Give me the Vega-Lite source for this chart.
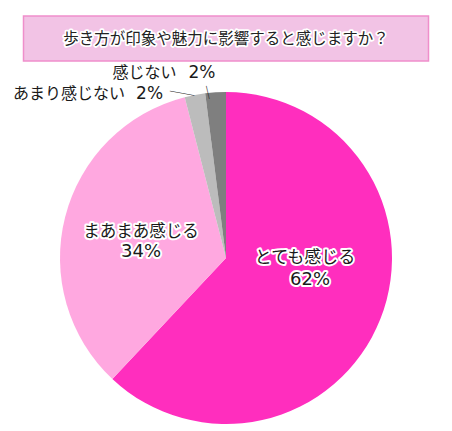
{
  "$schema": "https://vega.github.io/schema/vega-lite/v6.json",
  "padding": {"left": 0, "right": 0, "top": 15, "bottom": 0},
  "spacing": 31,
  "center": true,
  "bounds": "flush",
  "background": "white",
  "config": {"view": {"stroke": null}, "font": "Noto Sans CJK JP"},
  "vconcat": [
    {
      "width": 405,
      "height": 45,
      "view": {"fill": "#F2C3E5", "stroke": "#EF8FCB", "strokeWidth": 1.5},
      "data": {"values": [{"q": "歩き方が印象や魅力に影響すると感じますか？"}]},
      "layer": [
        {"mark": {"type": "text", "font": "Noto Sans CJK JP", "fontSize": 15.5, "color": "#222", "stroke": "white", "strokeWidth": 3.5, "strokeJoin": "round"}, "encoding": {"text": {"field": "q"}}},
        {"mark": {"type": "text", "font": "Noto Sans CJK JP", "fontSize": 15.5, "color": "#222"}, "encoding": {"text": {"field": "q"}}}
      ]
    },
    {
      "width": 452,
      "height": 332,
      "data": {"values": [
        {"cat": "とても感じる", "v": 0.62},
        {"cat": "まあまあ感じる", "v": 0.34},
        {"cat": "あまり感じない", "v": 0.02},
        {"cat": "感じない", "v": 0.02}
      ]},
      "transform": [
        {"window": [{"op": "row_number", "as": "idx"}]},
        {"stack": "v", "groupby": [], "sort": [{"field": "idx", "order": "ascending"}], "as": ["v0", "v1"]}
      ],
      "encoding": {
        "theta": {"field": "v0", "type": "quantitative", "stack": null, "scale": {"domain": [0, 1]}}
      },
      "layer": [
        {
          "mark": {"type": "arc", "outerRadius": 166},
          "encoding": {
            "theta2": {"field": "v1"},
            "color": {"field": "cat", "type": "nominal", "legend": null,
              "scale": {"domain": ["とても感じる", "まあまあ感じる", "あまり感じない", "感じない"], "range": ["#FF2EBE", "#FFA8E0", "#BCBCBC", "#7F7F7F"]}}
          }
        },
        {
          "transform": [{"filter": "datum.cat === 'とても感じる'"}],
          "layer": [
            {"mark": {"type": "text", "radius": 0, "dx": 79, "dy": 0, "font": "Noto Sans CJK JP", "fontSize": 17, "color": "#1a1a1a", "stroke": "white", "strokeWidth": 4, "strokeJoin": "round"},
             "encoding": {"text": {"field": "cat"}}},
            {"mark": {"type": "text", "radius": 0, "dx": 79, "dy": 0, "font": "Noto Sans CJK JP", "fontSize": 17, "color": "#1a1a1a"},
             "encoding": {"text": {"field": "cat"}}},
            {"mark": {"type": "text", "radius": 0, "dx": 84, "dy": 22, "font": "DejaVu Sans", "fontSize": 18, "color": "#1a1a1a", "stroke": "white", "strokeWidth": 4, "strokeJoin": "round"},
             "encoding": {"text": {"field": "v", "type": "quantitative", "format": ".0%"}}},
            {"mark": {"type": "text", "radius": 0, "dx": 84, "dy": 22, "font": "DejaVu Sans", "fontSize": 18, "color": "#1a1a1a"},
             "encoding": {"text": {"field": "v", "type": "quantitative", "format": ".0%"}}}
          ]
        },
        {
          "transform": [{"filter": "datum.cat === 'まあまあ感じる'"}],
          "layer": [
            {"mark": {"type": "text", "radius": 0, "dx": -85, "dy": -26, "font": "Noto Sans CJK JP", "fontSize": 16.5, "color": "#1a1a1a", "stroke": "white", "strokeWidth": 4, "strokeJoin": "round"},
             "encoding": {"text": {"field": "cat"}}},
            {"mark": {"type": "text", "radius": 0, "dx": -85, "dy": -26, "font": "Noto Sans CJK JP", "fontSize": 16.5, "color": "#1a1a1a"},
             "encoding": {"text": {"field": "cat"}}},
            {"mark": {"type": "text", "radius": 0, "dx": -85, "dy": -6, "font": "DejaVu Sans", "fontSize": 18, "color": "#1a1a1a", "stroke": "white", "strokeWidth": 4, "strokeJoin": "round"},
             "encoding": {"text": {"field": "v", "type": "quantitative", "format": ".0%"}}},
            {"mark": {"type": "text", "radius": 0, "dx": -85, "dy": -6, "font": "DejaVu Sans", "fontSize": 18, "color": "#1a1a1a"},
             "encoding": {"text": {"field": "v", "type": "quantitative", "format": ".0%"}}}
          ]
        },
        {
          "transform": [{"filter": "datum.cat === 'あまり感じない'"}],
          "layer": [
            {"mark": {"type": "text", "radius": 170, "dx": -58.6, "dy": 1, "align": "right", "font": "Noto Sans CJK JP", "fontSize": 16, "color": "#1a1a1a"},
             "encoding": {"text": {"field": "cat"}}},
            {"mark": {"type": "text", "radius": 170, "dx": -47.6, "dy": 1, "align": "left", "font": "DejaVu Sans", "fontSize": 17, "color": "#1a1a1a"},
             "encoding": {"text": {"field": "v", "type": "quantitative", "format": ".0%"}}},
            {"mark": {"type": "text", "radius": 170, "dx": -1.6, "dy": 1, "angle": 10, "font": "Noto Sans CJK JP", "fontSize": 12.5, "color": "#222222", "text": "──"}}
          ]
        },
        {
          "transform": [{"filter": "datum.cat === '感じない'"}],
          "layer": [
            {"mark": {"type": "text", "radius": 185, "dx": -26.4, "dy": -1, "align": "right", "font": "Noto Sans CJK JP", "fontSize": 16, "color": "#1a1a1a"},
             "encoding": {"text": {"field": "cat"}}},
            {"mark": {"type": "text", "radius": 185, "dx": -14.4, "dy": -1, "align": "left", "font": "DejaVu Sans", "fontSize": 17, "color": "#1a1a1a"},
             "encoding": {"text": {"field": "v", "type": "quantitative", "format": ".0%"}}},
            {"mark": {"type": "text", "radius": 172, "dx": 5.8, "dy": -1, "angle": 77, "font": "Noto Sans CJK JP", "fontSize": 13.5, "color": "#222222", "text": "─"}}
          ]
        }
      ]
    }
  ]
}
